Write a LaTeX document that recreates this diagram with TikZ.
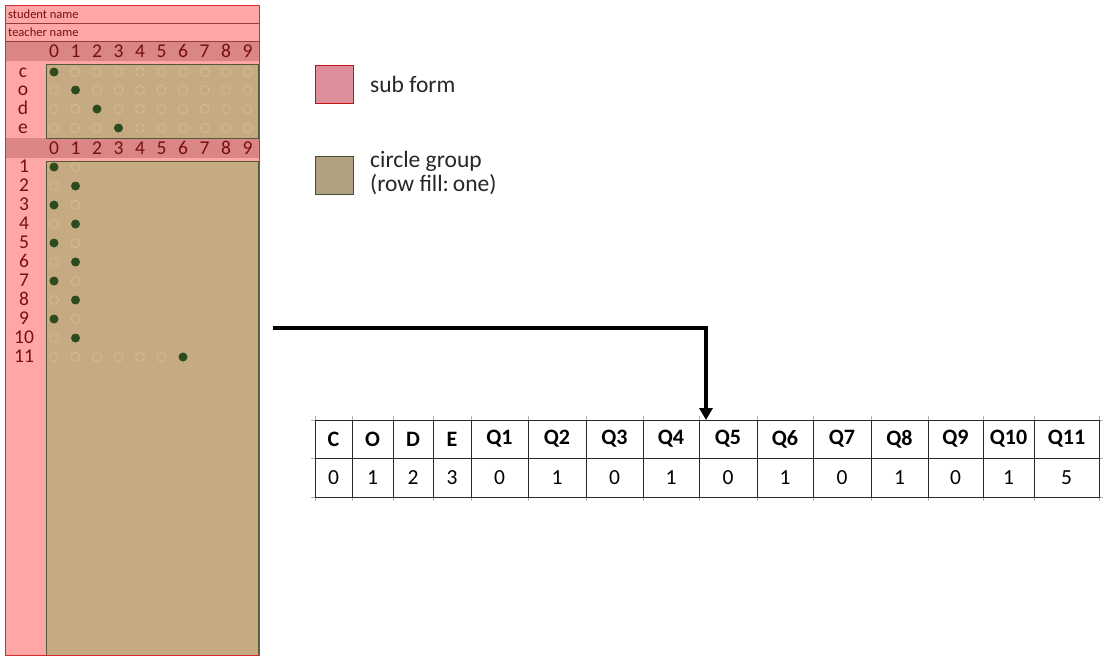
\documentclass[tikz,border=0pt]{standalone}
\usepackage{fontspec}
\setmainfont{Carlito}
\usetikzlibrary{arrows.meta}
\definecolor{pinkbg}{RGB}{255,166,166}
\definecolor{hdrbg}{RGB}{218,134,134}
\definecolor{tanbg}{RGB}{197,170,130}
\definecolor{tanline}{RGB}{80,90,55}
\definecolor{formred}{RGB}{215,45,45}
\definecolor{formtext}{RGB}{120,15,15}
\definecolor{dotfill}{RGB}{45,75,30}
\definecolor{dotring}{RGB}{212,188,150}
\definecolor{legpink}{RGB}{222,142,154}
\definecolor{legpinkline}{RGB}{192,20,20}
\definecolor{legtan}{RGB}{176,160,128}
\definecolor{legtanline}{RGB}{70,80,50}
\definecolor{gridline}{RGB}{40,40,40}
\begin{document}
\begin{tikzpicture}[x=1pt,y=-1pt,
  formtxt/.style={text=formtext,font=\fontsize{19.5}{21}\selectfont,inner sep=0pt},
  codelbl/.style={formtxt,anchor=base,text height=8pt,text depth=0pt},
  smalltxt/.style={text=formtext,font=\fontsize{12.5}{14}\selectfont,inner sep=0pt,anchor=west},
  fdot/.style={circle,fill=dotfill,minimum size=9pt,inner sep=0pt},
  edot/.style={circle,draw=dotring,line width=0.8pt,minimum size=9pt,inner sep=0pt},
  legbox/.style={minimum size=38pt,inner sep=0pt,line width=0.8pt},
  legtxt/.style={font=\fontsize{23.5}{24}\selectfont,text=black!85,anchor=west,align=left,inner sep=0pt},
  hd/.style={font=\bfseries\fontsize{22}{24}\selectfont,inner sep=0pt},
  vl/.style={font=\fontsize{21.5}{24}\selectfont,inner sep=0pt},
  conn/.style={line width=3.5pt,-{Triangle[width=13pt,length=12pt]}}
]
\useasboundingbox (0,0) rectangle (1104,662);
% ---------- form ----------
\fill[pinkbg] (5,5) rectangle (259,655);
\fill[hdrbg] (5,41) rectangle (259,61);
\fill[hdrbg] (5,138) rectangle (259,158);
\filldraw[fill=tanbg,draw=tanline,line width=0.8pt] (46,64) rectangle (258,138);
\filldraw[fill=tanbg,draw=tanline,line width=0.8pt] (46,161) rectangle (258,655);
\draw[formtext!80,line width=0.6pt] (5,23) -- (259,23) (5,41) -- (259,41);
\draw[formred,line width=0.9pt] (5,5) rectangle (259,655);
\node[smalltxt] (sname) at (8,14) {student name};
\node[smalltxt] (tname) at (8,32) {teacher name};
\foreach \i in {0,...,9}{
  \node[formtxt] (ha\i) at ({54+21.5*\i},51) {\i};
  \node[formtxt] (hb\i) at ({54+21.5*\i},148) {\i};
}
% code rows
\foreach \r/\l/\y in {0/c/72,1/o/90,2/d/109,3/e/128}{
  \node[codelbl] (cl\r) at (23,{\y+5}) {\l};
  \foreach \i in {0,...,9}{
    \ifnum\i=\r
      \node[fdot] (cd\r-\i) at ({54+21.5*\i},\y) {};
    \else
      \node[edot] (cd\r-\i) at ({54+21.5*\i},\y) {};
    \fi
  }
}
% question rows
\foreach \q/\y/\f in {1/167/0,2/186/1,3/205/0,4/224/1,5/243/0,6/262/1,7/281/0,8/300/1,9/319/0,10/338/1}{
  \node[formtxt] (ql\q) at (24,{\y-1}) {\q};
  \foreach \i in {0,1}{
    \ifnum\i=\f
      \node[fdot] (qd\q-\i) at ({54+21.5*\i},\y) {};
    \else
      \node[edot] (qd\q-\i) at ({54+21.5*\i},\y) {};
    \fi
  }
}
\node[formtxt] (ql11) at (24,356) {11};
\foreach \i in {0,...,6}{
  \ifnum\i=6
    \node[fdot] (qd11-\i) at ({54+21.5*\i},357) {};
  \else
    \node[edot] (qd11-\i) at ({54+21.5*\i},357) {};
  \fi
}
% ---------- legend ----------
\node[legbox,fill=legpink,draw=legpinkline] (lsub) at (334,84) {};
\node[legtxt] (lsubt) at (370,84) {sub form};
\node[legtxt] (lcgt) at (370,173) {circle group\\(row fill:\,one)};
\node[legbox,fill=legtan,draw=legtanline] (lcg) at (334,175) {};
% ---------- table ----------
\foreach \a/\b in {315/352,352/393,393/433,433/471,471/528,528/586,586/643,643/699,699/757,757/813,813/871,871/928,928/983,983/1034,1034/1099}{
  \draw[black!30,line width=0.6pt] (\a,416) -- (\a,501) (\b,416) -- (\b,501);
}
\draw[black!30,line width=0.6pt] (311,420) -- (1103,420) (311,458) -- (1103,458) (311,497) -- (1103,497);
\foreach \a/\b/\h/\v [count=\n] in {315/352/C/0,352/393/O/1,393/433/D/2,433/471/E/3,471/528/Q1/0,528/586/Q2/1,586/643/Q3/0,643/699/Q4/1,699/757/Q5/0,757/813/Q6/1,813/871/Q7/0,871/928/Q8/1,928/983/Q9/0,983/1034/Q10/1,1034/1099/Q11/5}{
  \draw[gridline,line width=0.8pt] (\a,420) rectangle (\b,458);
  \draw[gridline,line width=0.8pt] (\a,458) rectangle (\b,497);
  \node[hd] (th\n) at ({(\a+\b)/2},439) {\h};
  \node[vl] (tv\n) at ({(\a+\b)/2},477.5) {\v};
}
% ---------- connector ----------
\coordinate (astart) at (273,328);
\coordinate (aend) at (706,420);
\draw[conn] (astart) -| (aend);
\end{tikzpicture}
\end{document}
